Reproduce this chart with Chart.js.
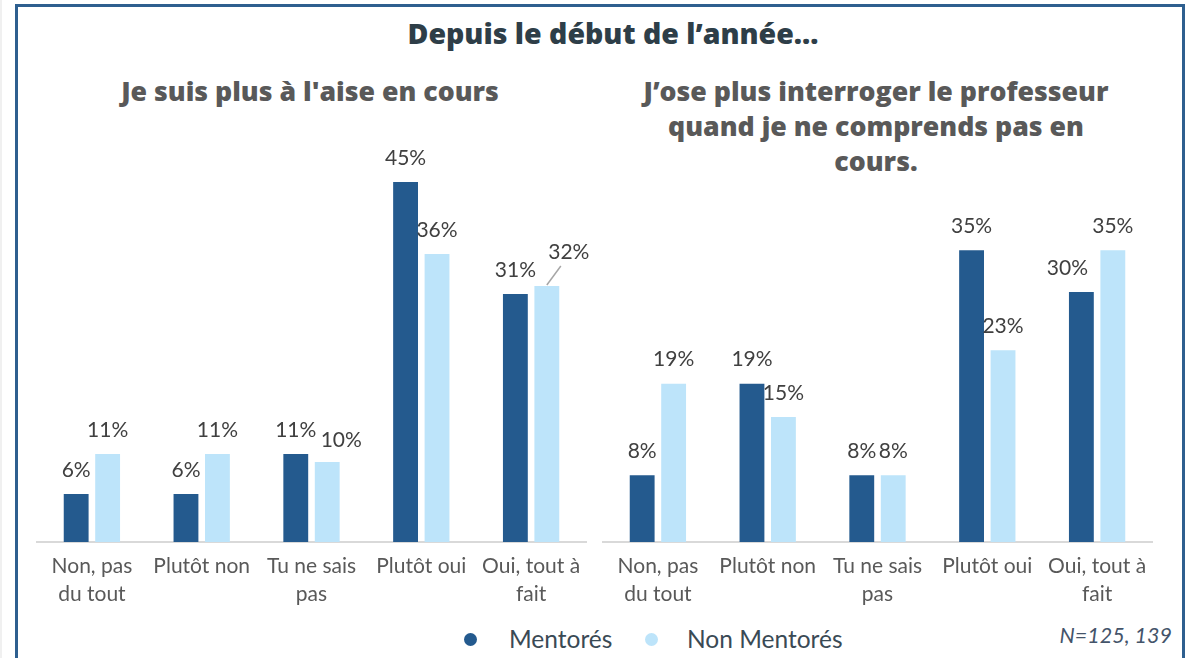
<!DOCTYPE html>
<html><head><meta charset="utf-8">
<script src="https://cdn.jsdelivr.net/npm/chart.js@4/dist/chart.umd.min.js"></script>
<style>
html,body{margin:0;padding:0;background:#fff;width:1186px;height:658px;overflow:hidden;font-family:Lato,"Noto Sans",sans-serif;}
#edge{position:absolute;left:0;top:0;width:2px;height:658px;background:#F0F0F0;}
#frame{position:absolute;left:15px;top:4px;width:1170px;height:680px;border:3px solid #2E5F8F;box-sizing:border-box;}
.t{position:absolute;text-align:center;white-space:nowrap;font-family:"Open Sans",sans-serif;font-weight:800;}
#main{left:0;width:1226px;top:14px;font-size:28.5px;line-height:38px;color:#2E3E48;}
#sub1{left:60px;width:500px;top:73px;font-size:26.7px;line-height:36px;color:#595959;}
#sub2{left:626px;width:500px;top:73px;font-size:26.7px;color:#595959;line-height:35px;}
.cv{position:absolute;}
#c1w{left:20px;top:130px;width:580px;height:490px;}
#c2w{left:586px;top:130px;width:580px;height:490px;}
#legend{position:absolute;top:624px;left:0;width:1186px;height:30px;font-size:24.5px;color:#3A4A55;}
.dot{position:absolute;width:13px;height:13px;border-radius:50%;top:9px;}
.lt{position:absolute;top:0px;}
#note{position:absolute;left:1012px;width:160px;text-align:right;top:622px;font-size:21.5px;font-style:italic;color:#44546A;}
</style></head>
<body>
<div id="edge"></div>
<div id="frame"></div>
<div class="t" id="main">Depuis le début de l’année…</div>
<div class="t" id="sub1">Je suis plus à l'aise en cours</div>
<div class="t" id="sub2">J’ose plus interroger le professeur<br>quand je ne comprends pas en<br>cours.</div>
<div class="cv" id="c1w"><canvas id="c1"></canvas></div>
<div class="cv" id="c2w"><canvas id="c2"></canvas></div>
<div id="legend">
  <span class="dot" style="left:464px;background:#245A8E"></span><span class="lt" style="left:509px">Mentorés</span>
  <span class="dot" style="left:645px;background:#BDE4FA"></span><span class="lt" style="left:687px">Non Mentorés</span>
</div>
<div id="note">N=125, 139</div>
<script>
const categories = [["Non, pas","du tout"],"Plutôt non",["Tu ne sais","pas"],"Plutôt oui",["Oui, tout à","fait"]];
const seriesNames = ["Mentorés","Non Mentorés"];
const aiseMentores = [6, 6, 11, 45, 31];
const aiseNonMentores = [11, 11, 10, 36, 32];
const oseMentores = [8, 19, 8, 35, 30];
const oseNonMentores = [19, 15, 8, 23, 35];
const colors = ["#245A8E", "#BDE4FA"];

const labelPlugin = {
  id: 'valLabels',
  afterDatasetsDraw(chart, args, opts) {
    const ctx = chart.ctx;
    ctx.save();
    ctx.font = '21px Lato, "Noto Sans", sans-serif';
    ctx.fillStyle = '#404040';
    ctx.textAlign = 'center';
    ctx.textBaseline = 'middle';
    chart.data.datasets.forEach((ds, di) => {
      const meta = chart.getDatasetMeta(di);
      meta.data.forEach((bar, i) => {
        const key = di + '-' + i;
        const off = (opts.offsets && opts.offsets[key]) || [0, 0];
        const x = bar.x + off[0];
        const y = bar.y - 24 + off[1];
        if (opts.leaders && opts.leaders[key]) {
          ctx.strokeStyle = '#A6A6A6';
          ctx.lineWidth = 1.5;
          ctx.beginPath();
          ctx.moveTo(bar.x, bar.y - 1);
          ctx.lineTo(x - 8, y + 14);
          ctx.stroke();
        }
        ctx.fillText(ds.data[i] + '%', x, y);
      });
    });
    ctx.restore();
  }
};

function makeChart(id, a, b, max, pluginOpts) {
  return new Chart(document.getElementById(id), {
    type: 'bar',
    data: {
      labels: categories,
      datasets: [
        {label: seriesNames[0], data: a, backgroundColor: colors[0]},
        {label: seriesNames[1], data: b, backgroundColor: colors[1]}
      ]
    },
    options: {
      responsive: true,
      maintainAspectRatio: false,
      animation: false,
      layout: {padding: {left: 17, right: 14, top: 12, bottom: 0}},
      datasets: {bar: {categoryPercentage: 0.573, barPercentage: 0.79}},
      plugins: {legend: {display: false}, tooltip: {enabled: false}, valLabels: pluginOpts},
      scales: {
        y: {display: false, min: 0, max: max},
        x: {
          grid: {display: false, drawTicks: false},
          border: {display: true, color: '#D9D9D9', width: 2},
          ticks: {color: '#595959', font: {size: 21, family: 'Lato, "Noto Sans", sans-serif', lineHeight: 1.3}, padding: 11, maxRotation: 0, autoSkip: false},
          afterFit: (s) => { s.height = 78; }
        }
      }
    },
    plugins: [labelPlugin]
  });
}

makeChart('c1', aiseMentores, aiseNonMentores, 50, {offsets: {'1-2': [14, 2], '1-4': [22, -10]}, leaders: {'1-4': true}});
makeChart('c2', oseMentores, oseNonMentores, 48, {offsets: {'0-4': [-14, 0]}});
</script>
</body></html>
